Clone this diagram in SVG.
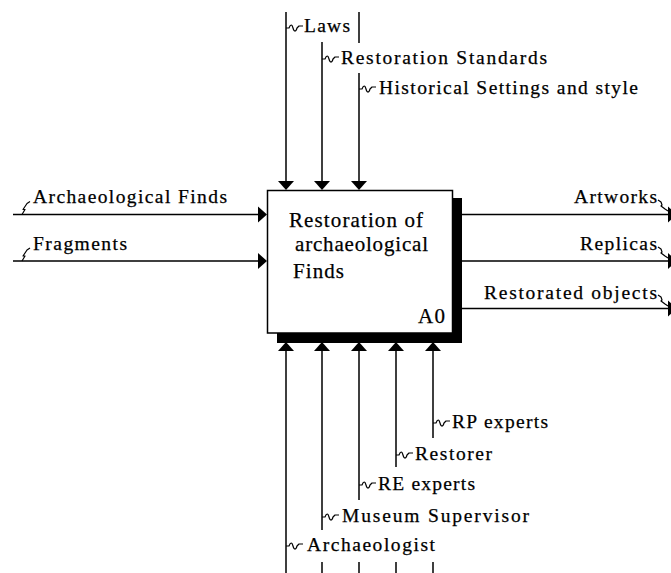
<svg xmlns="http://www.w3.org/2000/svg" xmlns:xlink="http://www.w3.org/1999/xlink" width="671" height="573" viewBox="0 0 671 573">
<style>
.ln{stroke:#000;stroke-width:1.5;fill:none}
.sq{stroke:#000;stroke-width:1.2;fill:none;stroke-linejoin:round}
.ah{fill:#000}
.t{font-family:"Liberation Serif","Times New Roman",serif;font-size:19.5px;fill:#000;stroke:#000;stroke-width:0.25}
.bt{font-family:"Liberation Serif","Times New Roman",serif;font-size:21px;fill:#000;stroke:#000;stroke-width:0.25}
</style>
<defs>
<path id="ad" d="M0,0 l-8,-9 h16 z"/>
<path id="au" d="M0,0 l-8,9 h16 z"/>
<path id="ar" d="M0,0 l-9,-8 v16 z"/>
<path id="sqr" d="M0,0 h3 c1.5,-4 3,-4 4,0 c1,4 3,4 4,0 l2,-2 h4"/>
<path id="sql" d="M0,0 l3,-5 h-2 l4,-6 l3,-2"/>
<path id="sqo" d="M0,0 l3,2 l1,3 l-1,1 l4,3 l3,2"/>
</defs>
<rect width="671" height="573" fill="#fff"/>
<g id="A0">
<rect x="277" y="198" width="185" height="145" fill="#000"/>
<rect x="267.5" y="190.5" width="185" height="142.5" fill="#fff" stroke="#000" stroke-width="1.5"/>
<text class="bt" x="289" y="227" textLength="134" lengthAdjust="spacing">Restoration of</text>
<text class="bt" x="295" y="251" textLength="133" lengthAdjust="spacing">archaeological</text>
<text class="bt" x="293" y="278" textLength="51" lengthAdjust="spacing">Finds</text>
<text class="bt" x="418" y="323" textLength="27" lengthAdjust="spacing">A0</text>
</g>
<g id="connectors">
<path class="ln" d="M286,12 V182 M322,42 V182 M359,12 V43 M359,73 V182"/>
<use href="#ad" class="ah" x="286" y="190"/>
<use href="#ad" class="ah" x="322" y="190"/>
<use href="#ad" class="ah" x="359" y="190"/>
<use href="#sqr" class="sq" x="286" y="28"/>
<use href="#sqr" class="sq" x="322" y="59"/>
<use href="#sqr" class="sq" x="359" y="89"/>
<text class="t" x="304" y="32" textLength="46" lengthAdjust="spacing">Laws</text>
<text class="t" x="341" y="64" textLength="206" lengthAdjust="spacing">Restoration Standards</text>
<text class="t" x="379" y="94" textLength="259" lengthAdjust="spacing">Historical Settings and style</text>
<path class="ln" d="M13,214.5 H259 M13,261 H259"/>
<use href="#ar" class="ah" x="267" y="214.5"/>
<use href="#ar" class="ah" x="267" y="261"/>
<use href="#sql" class="sq" x="22" y="214.5"/>
<use href="#sql" class="sq" x="22" y="261"/>
<text class="t" x="33" y="203" textLength="194" lengthAdjust="spacing">Archaeological Finds</text>
<text class="t" x="33" y="250" textLength="94" lengthAdjust="spacing">Fragments</text>
<path class="ln" d="M462,214.5 H668 M462,261 H668 M462,308.5 H668"/>
<use href="#ar" class="ah" x="677" y="214.5"/>
<use href="#ar" class="ah" x="677" y="261"/>
<use href="#ar" class="ah" x="677" y="308.5"/>
<use href="#sqo" class="sq" x="658" y="200"/>
<use href="#sqo" class="sq" x="658" y="247"/>
<use href="#sqo" class="sq" x="658" y="295"/>
<text class="t" x="574" y="203" textLength="83" lengthAdjust="spacing">Artworks</text>
<text class="t" x="580" y="250" textLength="77" lengthAdjust="spacing">Replicas</text>
<text class="t" x="484" y="299" textLength="173" lengthAdjust="spacing">Restorated objects</text>
<path class="ln" d="M286,350 V573 M322,350 V530 M322,562 V573 M359,350 V500 M359,562 V573 M396,350 V467 M396,562 V573 M433,350 V438 M433,562 V573"/>
<use href="#au" class="ah" x="286" y="342"/>
<use href="#au" class="ah" x="322" y="342"/>
<use href="#au" class="ah" x="359" y="342"/>
<use href="#au" class="ah" x="396" y="342"/>
<use href="#au" class="ah" x="433" y="342"/>
<use href="#sqr" class="sq" x="433" y="423"/>
<use href="#sqr" class="sq" x="396" y="455"/>
<use href="#sqr" class="sq" x="359" y="485"/>
<use href="#sqr" class="sq" x="322" y="517"/>
<use href="#sqr" class="sq" x="286" y="546"/>
<text class="t" x="452" y="428" textLength="96" lengthAdjust="spacing">RP experts</text>
<text class="t" x="415" y="460" textLength="77" lengthAdjust="spacing">Restorer</text>
<text class="t" x="378" y="490" textLength="97" lengthAdjust="spacing">RE experts</text>
<text class="t" x="342" y="522" textLength="187" lengthAdjust="spacing">Museum Supervisor</text>
<text class="t" x="307" y="551" textLength="128" lengthAdjust="spacing">Archaeologist</text>
</g>
</svg>
